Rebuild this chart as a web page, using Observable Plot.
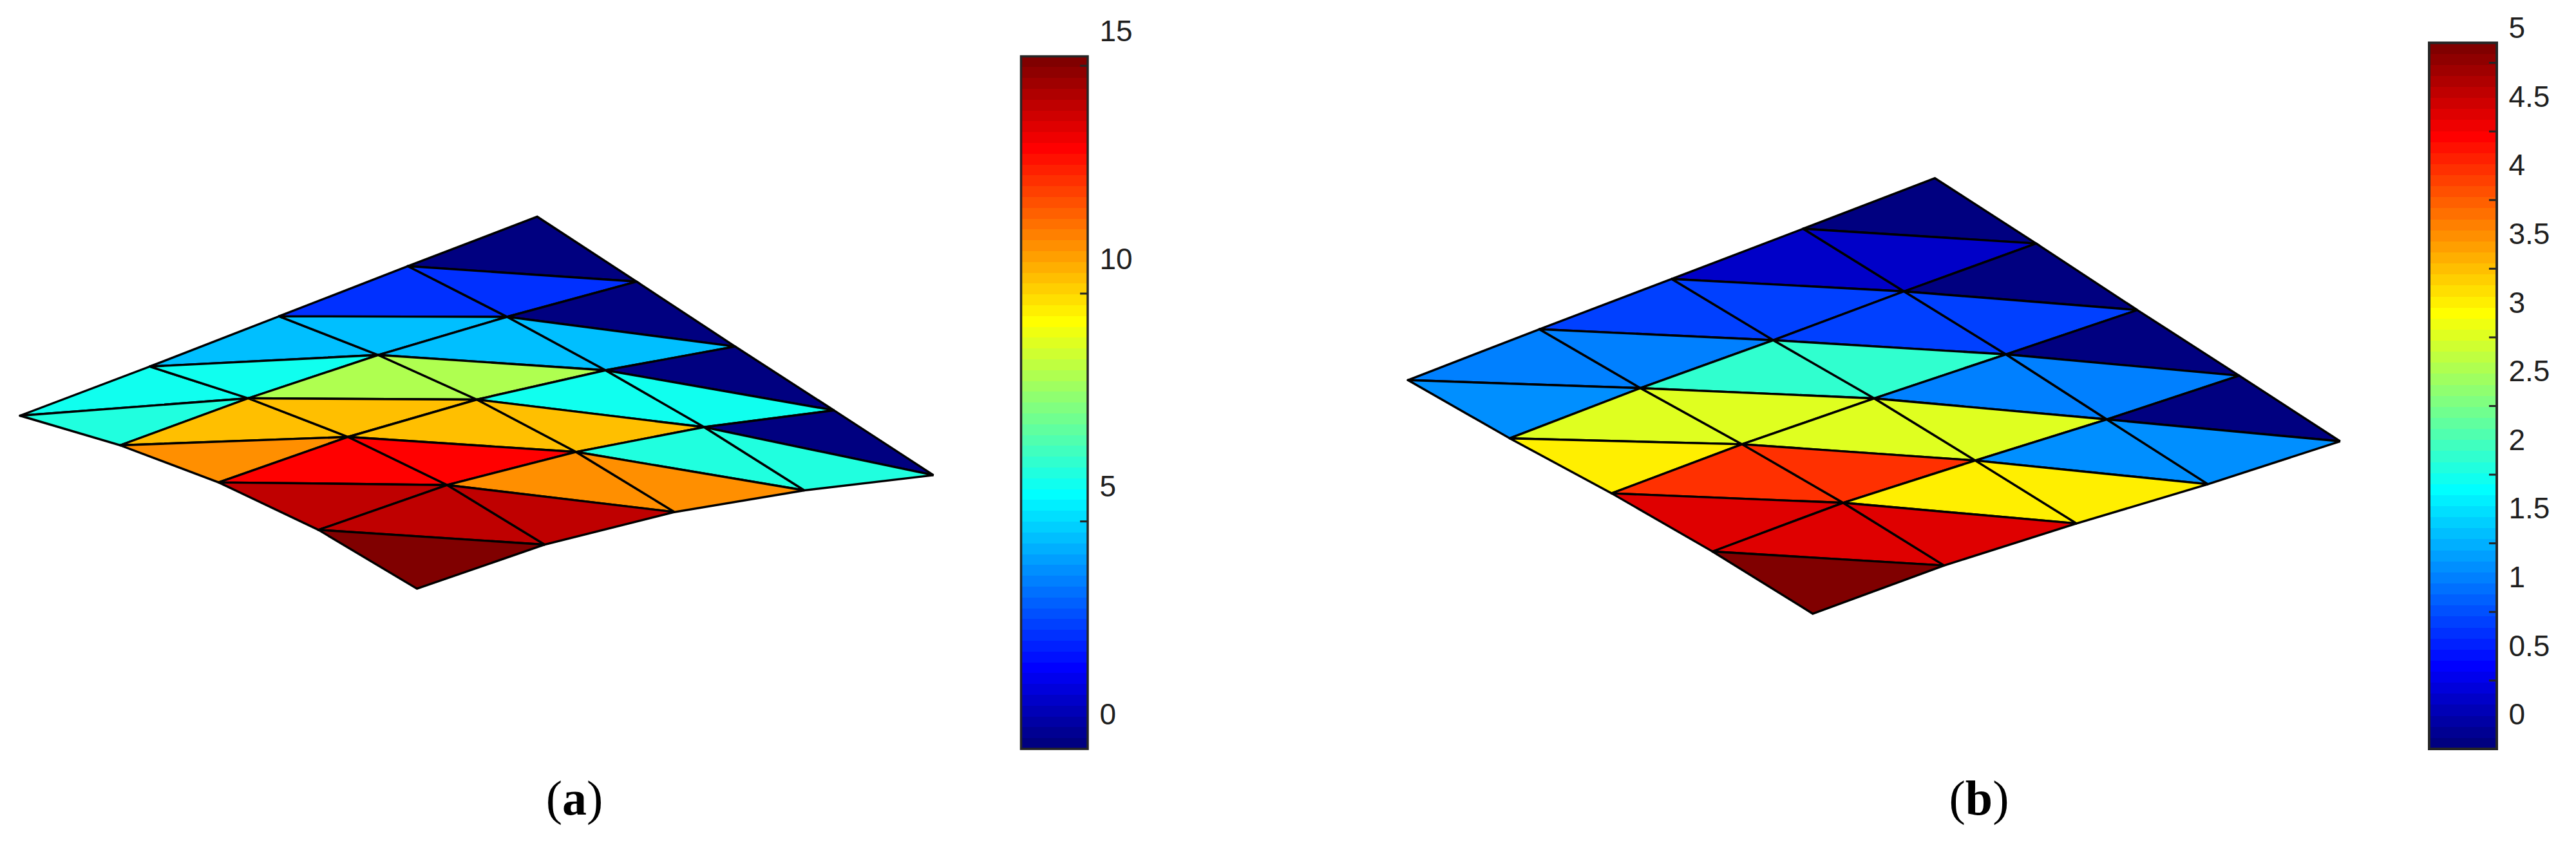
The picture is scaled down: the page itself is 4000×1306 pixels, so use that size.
<!DOCTYPE html>
<html>
<head>
<meta charset="utf-8">
<script src="https://cdn.jsdelivr.net/npm/d3@7"></script>
<script src="https://cdn.jsdelivr.net/npm/@observablehq/plot@0.6"></script>
<style>
  html, body { margin: 0; padding: 0; background: #fff; }
  #figure { position: relative; width: 4000px; height: 1306px; overflow: hidden; background: #fff; }
  .slot { position: absolute; top: 0; }
  .slot svg { display: block; max-width: none; }
  .caption { position: absolute; top: 1194px; transform: translateX(-50%); font: 76px/90px "Liberation Serif", serif; color: #000; white-space: nowrap; }
</style>
</head>
<body>
<div id="figure"></div>
<script>
// Mesh vertices, one row per j along the lower-left edge, five per row (i along the upper-left edge).
const vertexXA = [
  30.6, 232, 432.7, 632.7, 833.7,
  186, 385, 586.7, 787, 988,
  339, 540, 740, 939.8, 1141,
  494, 694, 893.9, 1092.9, 1294.4,
  647, 845.4, 1047, 1248.5, 1449
];
const vertexYA = [
  645, 568.7, 490.7, 412.8, 336,
  691, 618, 550.8, 491.5, 436.8,
  748.6, 678, 620, 574.5, 537.6,
  822.4, 752.7, 701.3, 662.8, 636.7,
  913.6, 845.2, 794.6, 761, 737.4
];
const vertexXB = [
  2185.7, 2389.8, 2595.4, 2799.5, 3004,
  2343.9, 2546.9, 2753, 2956.1, 3161.2,
  2502, 2704.6, 2910, 3114.3, 3318.4,
  2658.7, 2861.5, 3066.8, 3270.9, 3476.5,
  2814.3, 3018.4, 3224, 3428, 3633.2
];
const vertexYB = [
  589.8, 510.8, 432.7, 354.7, 276.2,
  680.2, 602.2, 527.8, 452, 377.6,
  765.6, 689.4, 618.2, 549.8, 481,
  856, 780.3, 714.6, 650.8, 582.9,
  952.5, 877.6, 812.4, 751.4, 684.8
];
// Element values: for each cell, the upper triangle then the lower triangle.
const valuesA = [
  5.82, 6.06, 4.63, 5.82, 2.49, 4.63, 0.12, 2.49,
  10.33, 11.04, 8.19, 10.33, 4.63, 8.19, 0.12, 4.63,
  13.18, 14.13, 10.33, 13.18, 5.82, 10.33, 0.12, 5.82,
  14.13, 15.08, 11.04, 14.13, 6.06, 11.04, 0.12, 6.06
];
const valuesB = [
  1.25, 1.33, 0.92, 1.25, 0.36, 0.92, 0.04, 0.36,
  3.01, 3.25, 2.13, 3.01, 0.92, 2.13, 0.04, 0.92,
  4.22, 4.62, 3.01, 4.22, 1.25, 3.01, 0.04, 1.25,
  4.62, 5.10, 3.25, 4.62, 1.33, 3.25, 0.04, 1.33
];
const ticksA = [0, 5, 10, 15];
const ticksB = [0, 0.5, 1, 1.5, 2, 2.5, 3, 3.5, 4, 4.5, 5];
const maxA = 15.2;
const maxB = 5.143;

// The 64-level jet palette.
const jet = d3.range(1, 65).map(k => {
  const r = k <= 24 ? 0 : k <= 40 ? (k - 24) / 16 : k <= 56 ? 1 : 1 - (k - 56) / 16;
  const g = k <= 8 ? 0 : k <= 24 ? (k - 8) / 16 : k <= 40 ? 1 : k <= 56 ? 1 - (k - 40) / 16 : 0;
  const b = k <= 8 ? 0.5 + (k - 1) / 14 : k <= 24 ? 1 : k <= 40 ? 1 - (k - 24) / 16 : 0;
  return d3.rgb(r * 255, g * 255, b * 255).formatHex();
});
const colorScale = max => ({
  type: "threshold",
  domain: d3.range(1, 64).map(k => max * k / 64),
  range: jet
});

// One row per triangle corner; each triangle closes on its first corner.
function meshRows(xs, ys, values) {
  const rows = [];
  const at = (i, j) => i + j * 5;
  let id = 0;
  for (let j = 0; j < 4; ++j) {
    for (let i = 0; i < 4; ++i) {
      const tris = [
        [at(i, j), at(i + 1, j), at(i + 1, j + 1)],
        [at(i, j), at(i, j + 1), at(i + 1, j + 1)]
      ];
      for (const t of tris) {
        for (const c of [...t, t[0]]) rows.push({id, x: xs[c], y: ys[c], value: values[id]});
        ++id;
      }
    }
  }
  return rows;
}

function meshPlot(xs, ys, values, max, x0, w) {
  return Plot.plot({
    width: w, height: 1180, margin: 0,
    x: {domain: [x0, x0 + w], range: [0, w], axis: null},
    y: {domain: [0, 1180], range: [0, 1180], axis: null},
    color: colorScale(max),
    marks: [
      Plot.line(meshRows(xs, ys, values), {
        x: "x", y: "y", z: "id", fill: "value",
        stroke: "#000", strokeWidth: 3.4, strokeLinejoin: "miter", strokeMiterlimit: 4
      })
    ]
  });
}

function barPlot(ticks, max, w, x1, x2, top, marginRight, tickLen, barStroke) {
  const unit = max / 64;
  const levels = d3.range(64).map(k => ({low: k * unit, high: (k + 1) * unit, mid: (k + 0.5) * unit}));
  return Plot.plot({
    width: w, height: 1180, marginTop: 0, marginBottom: 0, marginLeft: 0, marginRight,
    x: {domain: [0, 1], range: [x1, x2], axis: null},
    y: {domain: [0, max], range: [1163, top], axis: null},
    color: colorScale(max),
    style: {fontFamily: '"Liberation Sans", Arial, sans-serif'},
    marks: [
      Plot.rect(levels, {x1: 0, x2: 1, y1: "low", y2: "high", fill: "mid", inset: 0, shapeRendering: "crispEdges"}),
      Plot.ruleY(ticks.filter(t => t > 0), {x1: 1 - tickLen, x2: 1, stroke: "#262626", strokeWidth: 3}),
      Plot.rect([0], {x1: 0, x2: 1, y1: 0, y2: max, fill: "none", stroke: "#262626", strokeWidth: barStroke}),
      Plot.axisY(ticks, {
        anchor: "right", tickSize: 0, tickPadding: 0, dy: -53,
        fontSize: 46, fontFamily: '"Liberation Sans", Arial, sans-serif', fill: "#1f1f1f",
        tickFormat: d => String(d), label: null
      })
    ]
  });
}

const figure = document.getElementById("figure");
function place(node, left) {
  const slot = document.createElement("div");
  slot.className = "slot";
  slot.style.left = left + "px";
  slot.appendChild(node);
  figure.appendChild(slot);
}
place(meshPlot(vertexXA, vertexYA, valuesA, maxA, 0, 1560), 0);
place(barPlot(ticksA, maxA, 440, 25.5, 129, 87.5, 293, 0.115, 3.5), 1560);
place(meshPlot(vertexXB, vertexYB, valuesB, maxB, 2000, 1720), 2000);
place(barPlot(ticksB, maxB, 280, 52, 157, 66.5, 105, 0.115, 4), 3720);

for (const [letter, left] of [["a", 892], ["b", 3073]]) {
  const cap = document.createElement("div");
  cap.className = "caption";
  cap.style.left = left + "px";
  cap.innerHTML = "(<b>" + letter + "</b>)";
  figure.appendChild(cap);
}
</script>
</body>
</html>
